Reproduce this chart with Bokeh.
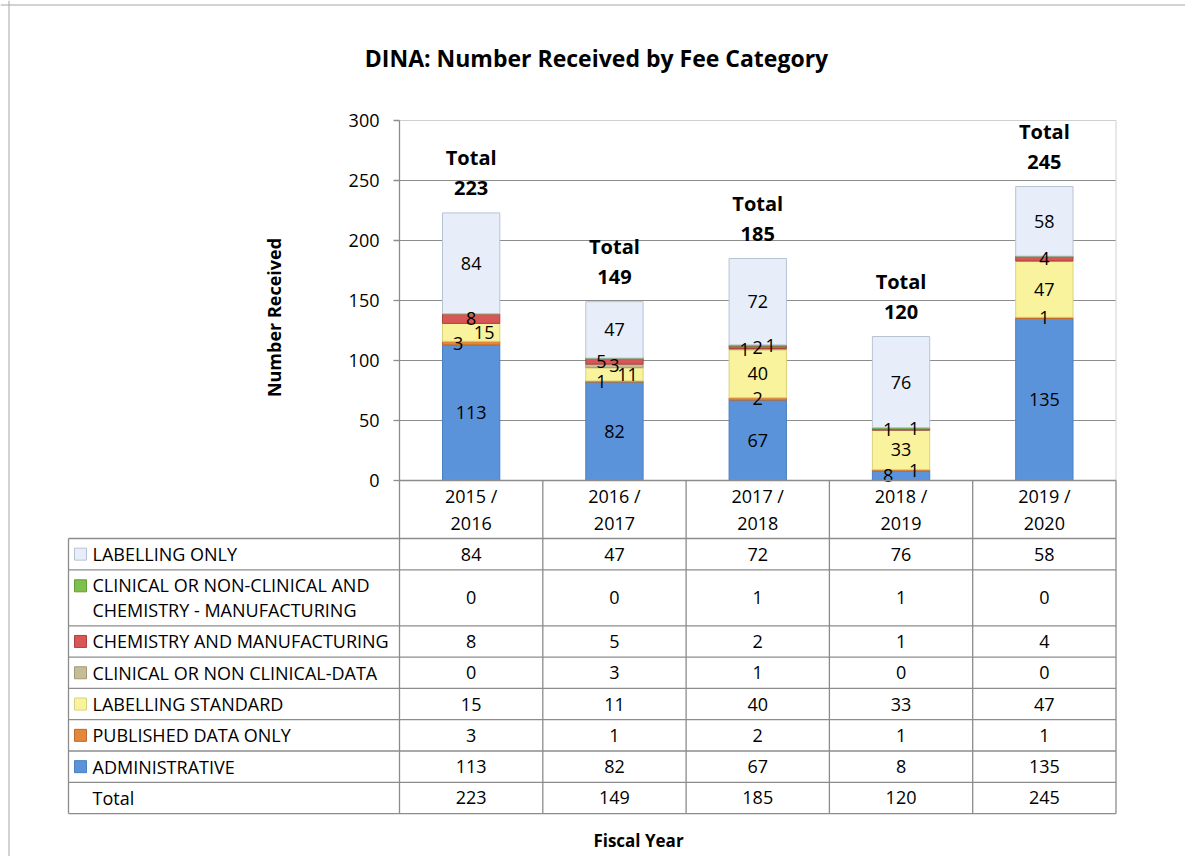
import math
from bokeh.plotting import figure
from bokeh.models import ColumnDataSource, Range1d, Span
from bokeh.core.properties import value
from bokeh.embed import file_html
from bokeh.resources import INLINE

# ---------------- data ----------------
years = ["2015 /\n2016", "2016 /\n2017", "2017 /\n2018", "2018 /\n2019", "2019 /\n2020"]
administrative = [113, 82, 67, 8, 135]
published_data_only = [3, 1, 2, 1, 1]
labelling_standard = [15, 11, 40, 33, 47]
clinical_or_non_clinical_data = [0, 3, 1, 0, 0]
chemistry_and_manufacturing = [8, 5, 2, 1, 4]
clinical_and_chemistry_manufacturing = [0, 0, 1, 1, 0]
labelling_only = [84, 47, 72, 76, 58]
totals = [223, 149, 185, 120, 245]
y_ticks = [0, 50, 100, 150, 200, 250, 300]

series_names = [
    "ADMINISTRATIVE",
    "PUBLISHED DATA ONLY",
    "LABELLING STANDARD",
    "CLINICAL OR NON CLINICAL-DATA",
    "CHEMISTRY AND MANUFACTURING",
    "CLINICAL OR NON-CLINICAL AND\nCHEMISTRY - MANUFACTURING",
    "LABELLING ONLY",
]
series_values = [
    administrative,
    published_data_only,
    labelling_standard,
    clinical_or_non_clinical_data,
    chemistry_and_manufacturing,
    clinical_and_chemistry_manufacturing,
    labelling_only,
]

# ---------------- style ----------------
fill_colors = ["#5b93db", "#e3873c", "#f8f39c", "#c6bd97", "#d75656", "#7fbf4d", "#e7eef9"]
line_colors = ["#4a7fc0", "#c06a2a", "#d8d27c", "#a09a78", "#b04040", "#5f9f35", "#b8c3d2"]
FONT = value("Open Sans")
GRID = "#8c8c8c"
TABLE = "#8c8c8c"

# ---------------- layout (page pixels) ----------------
W, H = 1185, 856
PX = 143.3          # px per category
PY = 1.2            # px per value unit
LEFT = 399          # page x of plot-area left
ZERO = 480          # page y of value 0
n = len(totals)

def vx(page_x):
    return (page_x - LEFT) / PX

def vy(page_y):
    return (ZERO - page_y) / PY

x_start = vx(0)
x_end = x_start + W / PX
y_end = vy(0)
y_start = y_end - H / PY

p = figure(width=W, height=H, x_range=Range1d(x_start, x_end), y_range=Range1d(y_start, y_end),
           x_axis_type=None, y_axis_type=None, min_border=0, toolbar_location=None,
           output_backend="svg", outline_line_color=None, background_fill_color="white")

# outer border (left and top)
p.add_layout(Span(location=vx(8.5), dimension="height", line_color="#a6a6a6", line_width=1))
p.add_layout(Span(location=vy(4.5), dimension="width", line_color="#a6a6a6", line_width=1))

# title
p.text(x=[vx(596)], y=[vy(57)], text=["DINA: Number Received by Fee Category"],
       text_font=FONT, text_font_size="23px", text_font_style="bold",
       text_align="center", text_baseline="middle", text_color="#000000")

# gridlines, plot area border
inner = [t for t in y_ticks if 0 < t < max(y_ticks)]
p.segment(x0=[0] * len(inner), x1=[n] * len(inner), y0=inner, y1=inner, line_color=GRID, line_width=1)
top = max(y_ticks)
p.segment(x0=[0, n], x1=[n, n], y0=[top, top], y1=[top, 0], line_color="#d0d0d0", line_width=1)
# y axis line + ticks + labels
p.segment(x0=[0], x1=[0], y0=[0], y1=[top], line_color=GRID, line_width=1.3)
p.segment(x0=[vx(LEFT - 6)] * len(y_ticks), x1=[0] * len(y_ticks), y0=y_ticks, y1=y_ticks,
          line_color=GRID, line_width=1.3)
p.text(x=[vx(LEFT - 20)] * len(y_ticks), y=y_ticks, text=[str(t) for t in y_ticks],
       text_font=FONT, text_font_size="18px", text_align="right", text_baseline="middle",
       text_color="#000000")
p.text(x=[vx(273)], y=[vy(317)], text=["Number Received"], angle=math.pi / 2,
       text_font=FONT, text_font_size="18px", text_font_style="bold",
       text_align="center", text_baseline="middle", text_color="#000000")

# stacked bars
xs = [i + 0.5 for i in range(n)]
keys = ["s%d" % k for k in range(len(series_values))]
src = ColumnDataSource(dict(x=xs, **{k: v for k, v in zip(keys, series_values)}))
p.vbar_stack(keys, x="x", width=0.4, source=src, fill_color=fill_colors,
             line_color=line_colors, line_width=1)

# segment labels (small neighbouring labels are spread sideways)
SPREAD = [-13, 13, 0]      # looser clusters: left, right, centre, ...
TIGHT = {2: [-13, 13], 3: [-13, 0, 13]}
lx, ly, lt, ldx = [], [], [], []
for i in range(n):
    base = 0
    entries = []
    for vals in series_values:
        v = vals[i]
        if v > 0:
            entries.append((base + v / 2.0, v))
        base += v
    clusters = []
    for e in entries:
        if clusters and (e[0] - clusters[-1][-1][0]) * PY < 14:
            clusters[-1].append(e)
        else:
            clusters.append([e])
    for c in clusters:
        span_px = (c[-1][0] - c[0][0]) * PY
        for k, (yc, v) in enumerate(c):
            if len(c) == 1:
                dx = 0
            elif span_px < 14 and len(c) in TIGHT:
                dx = TIGHT[len(c)][k]
            else:
                dx = SPREAD[k % 3]
            lx.append(xs[i]); ly.append(yc); lt.append(str(v)); ldx.append(dx)
p.text(x="x", y="y", text="t", x_offset="dx",
       source=ColumnDataSource(dict(x=lx, y=ly, t=lt, dx=ldx)),
       text_font=FONT, text_font_size="18px", text_align="center", text_baseline="middle",
       text_color="#000000")

# total labels
p.text(x=xs, y=totals, text=["Total"] * n, y_offset=-55, text_font=FONT, text_font_size="20px",
       text_font_style="bold", text_align="center", text_baseline="middle", text_color="#000000")
p.text(x=xs, y=totals, text=[str(t) for t in totals], y_offset=-25, text_font=FONT,
       text_font_size="20px", text_font_style="bold", text_align="center",
       text_baseline="middle", text_color="#000000")

# ---------------- data table ----------------
HEADER_H = 58
ROW_H = 31.3
DOUBLE_H = 56
TABLE_LEFT = 68
rows = list(reversed(list(zip(series_names, series_values, fill_colors, line_colors))))
row_tops = []
cur = ZERO + HEADER_H
heights = []
for name, *_ in rows:
    h = DOUBLE_H if "\n" in name else ROW_H
    row_tops.append(cur); heights.append(h); cur += h
total_top = cur
bottom = cur + ROW_H

# header (years)
p.text(x=xs, y=[vy(ZERO + HEADER_H / 2)] * n, text=years, text_font=FONT, text_font_size="18px",
       text_align="center", text_baseline="middle", text_line_height=1.16, text_color="#000000")

# lines
hl = [ZERO + HEADER_H] + [t + h for t, h in zip(row_tops, heights)] + [bottom]
p.segment(x0=[0], x1=[n], y0=[0], y1=[0], line_color=TABLE, line_width=1.3)
p.segment(x0=[vx(TABLE_LEFT)] * len(hl), x1=[n] * len(hl), y0=[vy(h) for h in hl],
          y1=[vy(h) for h in hl], line_color=TABLE, line_width=1.3)
p.segment(x0=list(range(n + 1)), x1=list(range(n + 1)), y0=[0] * (n + 1),
          y1=[vy(bottom)] * (n + 1), line_color=TABLE, line_width=1.3)
p.segment(x0=[vx(TABLE_LEFT)], x1=[vx(TABLE_LEFT)], y0=[vy(ZERO + HEADER_H)], y1=[vy(bottom)],
          line_color=TABLE, line_width=1.3)

# row labels, markers, values
mk_y, mk_f, mk_l = [], [], []
for (name, vals, fc, lc), t, h in zip(rows, row_tops, heights):
    cy = t + h / 2
    first_line = cy - 12 if "\n" in name else cy
    mk_y.append(vy(first_line)); mk_f.append(fc); mk_l.append(lc)
    p.text(x=[vx(92)], y=[vy(cy)], text=[name], text_font=FONT, text_font_size="18px",
           text_align="left", text_baseline="middle", text_line_height=1.03, text_color="#000000")
    p.text(x=xs, y=[vy(cy)] * n, text=[str(v) for v in vals], text_font=FONT,
           text_font_size="18px", text_align="center", text_baseline="middle", text_color="#000000")
p.scatter(x=[vx(80)] * len(mk_y), y=mk_y, marker="square", size=12, fill_color=mk_f,
          line_color=mk_l, line_width=1)

cy = total_top + ROW_H / 2
p.text(x=[vx(92)], y=[vy(cy)], text=["Total"], text_font=FONT, text_font_size="18px",
       text_align="left", text_baseline="middle", text_color="#000000")
p.text(x=xs, y=[vy(cy)] * n, text=[str(v) for v in totals], text_font=FONT, text_font_size="18px",
       text_align="center", text_baseline="middle", text_color="#000000")

# x title
p.text(x=[vx(638)], y=[vy(840)], text=["Fiscal Year"], text_font=FONT, text_font_size="17px",
       text_font_style="bold", text_align="center", text_baseline="middle", text_color="#000000")

open("out.html", "w").write(file_html(p, INLINE))
